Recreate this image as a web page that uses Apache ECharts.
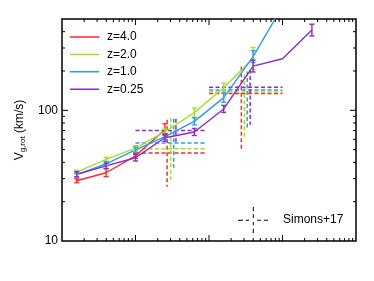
<!DOCTYPE html>
<html><head><meta charset="utf-8">
<script src="https://cdn.jsdelivr.net/npm/echarts@6/dist/echarts.min.js"></script>
<style>html,body{margin:0;padding:0;background:#fff}#c{width:374px;height:281px}</style>
</head><body><div id="c"></div>
<script>
// ---- data (x = log10 mass bin, arbitrary unlabeled axis) ----
const seriesNames = ['z=4.0', 'z=2.0', 'z=1.0', 'z=0.25'];
const colors = ['#ff2a2a', '#a3e02c', '#2b9cf5', '#8a2bd6'];
const logM = [7.2, 7.6, 8.0, 8.4, 8.8, 9.2, 9.6, 10.0, 10.4];
const vRed = [28.9, 33.3, 44.9, 71.1];
const vGreen = [33.6, 42.2, 51.3, 68.6, 96.0, 149, 249];
const vBlue = [32.1, 39.0, 49.9, 62.8, 82.3, 125, 258, 625];
const vPurple = [32.4, 37.6, 43.4, 61.7, 68.3, 102.5, 218, 248, 411];
// error bar half widths (dex); null = no bar
const eRed = [0.015, 0.03, 0.02, 0.045];
const eGreen = [0.015, 0.015, 0.02, 0.02, 0.035, 0.035, 0.085];
const eBlue = [0.015, 0.015, 0.02, 0.02, 0.027, 0.035, 0.045, null];
const ePurple = [0.02, 0.02, 0.025, 0.027, 0.027, 0.027, 0.045, null, 0.045];
// Simons+17 crosses: horizontal bin spans, vertical line positions, values
const simBinLo = [8.0, 9.0];
const simBinHi = [8.97, 10.0];
const simX = [[8.43, 9.44], [8.48, 9.48], [8.52, 9.52], [8.55, 9.56]];
const simV = [[47.1, 134.3], [50.8, 138.4], [56.2, 142.9], [70.2, 150.2]];
const simLo = [[26.0, 50.8], [29.4, 62.8], [36.3, 71.1], [57.5, 77.6]];
const simHi = [[84.8, 216], [87.9, 188], [86.3, 198], [86.3, 205]];
// axis
const xMin = 1e7, xMax = 1e11, yMin = 10, yMax = 500;
const yTickLabels = [10, 100];

const vals = [vRed, vGreen, vBlue, vPurple];
const errs = [eRed, eGreen, eBlue, ePurple];
const P = v => Math.pow(10, v);

// tick values
const xMajor = [], xMinor = [], yMajor = [], yMinor = [];
for (let d = 7; d <= 10; d++) { if (d > 7) xMajor.push(P(d)); for (let k = 2; k <= 9; k++) xMinor.push(k * P(d)); }
yMajor.push(100);
for (let d = 1; d <= 2; d++) for (let k = 2; k <= 9; k++) { const v = k * P(d); if (v < yMax) yMinor.push(v); }

const font = 'Liberation Sans, Arial, sans-serif';
const series = [];

// Simons+17 dashed crosses
const simData = [];
for (let c = 0; c < 4; c++) for (let g = 0; g < 2; g++) {
  simData.push([P(simBinLo[g]), P(simBinHi[g]), P(simX[c][g]), simV[c][g], simLo[c][g], simHi[c][g], c]);
}
series.push({
  type: 'custom', name: 'Simons+17', itemStyle: { color: '#000' }, z: 1,
  encode: { x: [0, 1, 2], y: [3, 4, 5] },
  data: simData,
  renderItem: function (params, api) {
    const col = colors[api.value(6)];
    const a = api.coord([api.value(0), api.value(3)]);
    const b = api.coord([api.value(1), api.value(3)]);
    const t = api.coord([api.value(2), api.value(5)]);
    const u = api.coord([api.value(2), api.value(4)]);
    const st = { stroke: col, lineWidth: 1.5, lineDash: [4, 2.5] };
    return { type: 'group', children: [
      { type: 'line', shape: { x1: a[0], y1: a[1], x2: b[0], y2: b[1] }, style: st },
      { type: 'line', shape: { x1: t[0], y1: t[1], x2: u[0], y2: u[1] }, style: st }
    ] };
  }
});

// model lines + error bars
for (let c = 0; c < 4; c++) {
  const d = vals[c].map((v, i) => [P(logM[i]), v]);
  series.push({
    type: 'line', name: seriesNames[c], data: d, symbol: 'none', z: 3,
    lineStyle: { color: colors[c], width: 1.4 }, itemStyle: { color: colors[c] }
  });
  const ed = [];
  errs[c].forEach((e, i) => { if (e != null) ed.push([P(logM[i]), vals[c][i] * P(-e), vals[c][i] * P(e)]); });
  series.push({
    type: 'custom', name: seriesNames[c] + ' err', z: 4, data: ed,
    encode: { x: 0, y: [1, 2] },
    renderItem: function (params, api) {
      const lo = api.coord([api.value(0), api.value(1)]);
      const hi = api.coord([api.value(0), api.value(2)]);
      const st = { stroke: colors[c], lineWidth: 1.4 };
      return { type: 'group', children: [
        { type: 'line', shape: { x1: lo[0], y1: lo[1], x2: hi[0], y2: hi[1] }, style: st },
        { type: 'line', shape: { x1: lo[0] - 2.5, y1: lo[1], x2: lo[0] + 2.5, y2: lo[1] }, style: st },
        { type: 'line', shape: { x1: hi[0] - 2.5, y1: hi[1], x2: hi[0] + 2.5, y2: hi[1] }, style: st }
      ] };
    }
  });
}

// ticks (inside, all four sides)
function tickSeries(list, isX, len) {
  return {
    type: 'custom', silent: true, z: 5, name: 'ticks',
    data: list.map(v => isX ? [v, yMin] : [xMin, v]),
    renderItem: function (params, api) {
      const cs = params.coordSys;
      const p = api.coord([api.value(0), api.value(1)]);
      const st = { stroke: '#000', lineWidth: 1 };
      if (isX) {
        return { type: 'group', children: [
          { type: 'line', shape: { x1: p[0], y1: cs.y + cs.height, x2: p[0], y2: cs.y + cs.height - len }, style: st },
          { type: 'line', shape: { x1: p[0], y1: cs.y, x2: p[0], y2: cs.y + len }, style: st }
        ] };
      }
      return { type: 'group', children: [
        { type: 'line', shape: { x1: cs.x, y1: p[1], x2: cs.x + len, y2: p[1] }, style: st },
        { type: 'line', shape: { x1: cs.x + cs.width, y1: p[1], x2: cs.x + cs.width - len, y2: p[1] }, style: st }
      ] };
    }
  };
}
series.push(tickSeries(xMajor, true, 6), tickSeries(xMinor, true, 3), tickSeries(yMajor, false, 6), tickSeries(yMinor, false, 3));

const lineIcon = 'path://M0,0h0.01v0.01h-0.01z M0,13.99h0.01v0.01h-0.01z M0,6.25h29v1.5h-29z';
const chart = echarts.init(document.getElementById('c'), null, { renderer: 'canvas' });
chart.setOption({
  animation: false,
  backgroundColor: '#fff',
  grid: { left: 62, right: 18, top: 19, bottom: 40, show: true, borderColor: '#000', borderWidth: 1.5, backgroundColor: 'transparent' },
  xAxis: { type: 'log', logBase: 10, min: xMin, max: xMax,
    axisLine: { show: false }, axisTick: { show: false }, axisLabel: { show: false }, splitLine: { show: false } },
  yAxis: { type: 'log', logBase: 10, min: yMin, max: yMax,
    axisLine: { show: false }, axisTick: { show: false }, splitLine: { show: false },
    axisLabel: { color: '#000', fontSize: 12, fontFamily: font, margin: 4,
      formatter: v => (yTickLabels.indexOf(Math.round(v)) >= 0 ? String(Math.round(v)) : '') },
    name: '{v|V}{s|g,rot}{v| (km/s)}', nameLocation: 'middle', nameGap: 23, nameRotate: 90,
    nameTextStyle: { color: '#000', rich: {
      v: { fontSize: 12, fontFamily: font, color: '#000' },
      s: { fontSize: 8, fontFamily: font, color: '#000', padding: [7, 0, 0, 0] }
    } } },
  legend: [
    { data: seriesNames, orient: 'vertical', left: 70, top: 30, padding: 0, icon: lineIcon,
      itemWidth: 29, itemHeight: 14, itemGap: 3.4,
      textStyle: { color: '#000', fontSize: 12, fontFamily: font, padding: [0, 0, 0, 3] }, selectedMode: false },
    { data: ['Simons+17'], left: 238, top: 207, padding: 0, itemWidth: 30, itemHeight: 26, selectedMode: false,
      icon: 'path://M0,12.8h5v1h-5z M7.7,12.8h3.3v1h-3.3z M19.3,12.8h3.7v1h-3.7z M26,12.8h4v1h-4z M14.8,0h1v4h-1z M14.8,7.3h1v3.7h-1z M14.8,15h1v3.3h-1z M14.8,21.7h1v4.3h-1z',
      textStyle: { color: '#000', fontSize: 12, fontFamily: font, padding: [0, 0, 0, 10] } }
  ],
  series: series
});
</script></body></html>
